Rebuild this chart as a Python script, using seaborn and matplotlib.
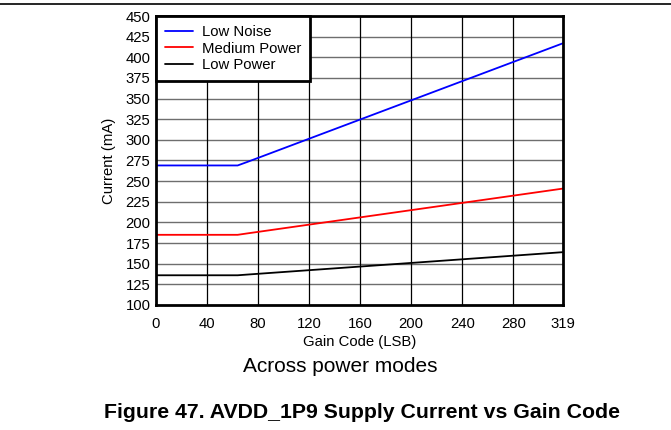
import pandas as pd
import matplotlib
matplotlib.use("Agg")
import matplotlib.pyplot as plt
import seaborn as sns

sns.set_style("white")
plt.rcParams["font.family"] = ["Liberation Sans", "DejaVu Sans"]
plt.rcParams["text.color"] = "black"
plt.rcParams["axes.labelcolor"] = "black"

# Supply current (mA) vs gain code
gain_code = [0, 64, 72, 319]
low_noise = [269, 269, 273.5, 417]
medium_power = [185, 185, 186.8, 241]
low_power = [136, 136, 136.9, 164]

modes = ["Low Noise", "Medium Power", "Low Power"]
palette = {"Low Noise": "#0000ff", "Medium Power": "#ff0000", "Low Power": "#000000"}

df = pd.concat([
    pd.DataFrame({"code": gain_code, "current": low_noise, "mode": "Low Noise"}),
    pd.DataFrame({"code": gain_code, "current": medium_power, "mode": "Medium Power"}),
    pd.DataFrame({"code": gain_code, "current": low_power, "mode": "Low Power"}),
])

fig = plt.figure(figsize=(6.71, 4.30), dpi=100)
ax = fig.add_axes([156 / 671, 1 - 305 / 430, 407 / 671, 289 / 430])

sns.lineplot(data=df, x="code", y="current", hue="mode", hue_order=modes,
             palette=palette, linewidth=1.3, ax=ax, legend=True)

ax.set_xlim(0, 319)
ax.set_ylim(100, 450)
ax.set_xticks([0, 40, 80, 120, 160, 200, 240, 280, 319])
ax.set_yticks(range(100, 451, 25))
ax.tick_params(length=0, labelsize=10.7, colors="black")
ax.tick_params(axis="x", pad=8.5)
ax.tick_params(axis="y", pad=4)

for y in range(125, 450, 25):
    ax.axhline(y, color="#6e6e6e", linewidth=1.0, zorder=0)
for x in [40, 80, 120, 160, 200, 240, 280]:
    ax.axvline(x, color="black", linewidth=0.9, zorder=0)

for s in ax.spines.values():
    s.set_visible(True)
    s.set_color("black")
    s.set_linewidth(2)

ax.set_xlabel("Gain Code (LSB)", fontsize=10.7, labelpad=3)
ax.set_ylabel("Current (mA)", fontsize=10.7, labelpad=7)

leg = ax.legend(loc="upper left", bbox_to_anchor=(0, 1), borderaxespad=0,
                fontsize=10.7, frameon=True, fancybox=False, handlelength=1.9,
                handletextpad=0.6, labelspacing=0.18, borderpad=0.6)
leg.get_frame().set_edgecolor("black")
leg.get_frame().set_linewidth(2)
leg.get_frame().set_alpha(1)
for line in leg.get_lines():
    line.set_linewidth(1.3)

fig.text(340 / 671, 1 - 366 / 430, "Across power modes", ha="center", va="center", fontsize=15)
fig.text(362 / 671, 1 - 412 / 430, "Figure 47. AVDD_1P9 Supply Current vs Gain Code",
         ha="center", va="center", fontsize=15.3, fontweight="bold")
fig.add_artist(plt.Line2D([0, 1], [1 - 4 / 430, 1 - 4 / 430], color="black", linewidth=1.2))

fig.savefig("out.png", dpi=100)
